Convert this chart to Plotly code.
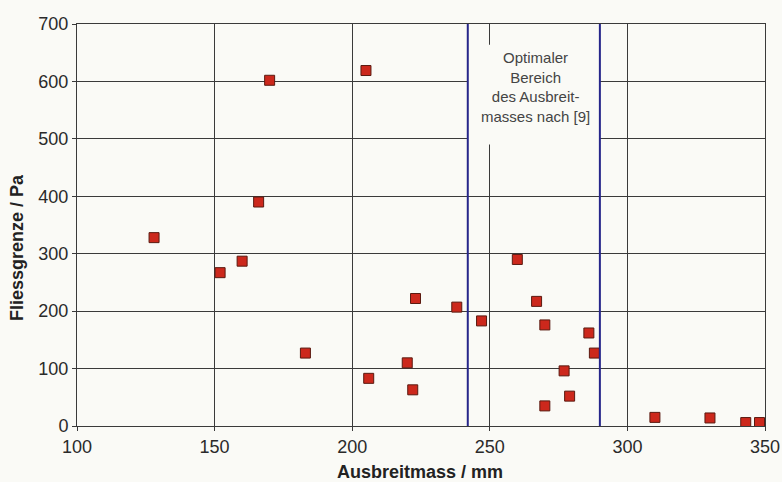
import plotly.graph_objects as go

ausbreitmass = [128, 152, 160, 166, 170, 183, 205, 206, 220, 222, 223, 238, 247, 260,
                267, 270, 270, 277, 279, 286, 288, 310, 330, 343, 348]
fliessgrenze = [328, 267, 287, 390, 602, 127, 619, 83, 110, 63, 222, 207, 183, 290,
                217, 176, 35, 96, 52, 162, 127, 15, 14, 6, 6]
optimal_bounds = [242, 290]
x_ticks = [100, 150, 200, 250, 300, 350]
y_ticks = [0, 100, 200, 300, 400, 500, 600, 700]
note_text = "Optimaler<br>Bereich<br>des Ausbreit-<br>masses nach [9]"
note_span = [490, 664]

W, H = 782, 482
ML, MR, MT, MB = 77, 17, 24, 56

bg = "#fafaf6"
grid = "#3a3a3a"
font_fam = "Liberation Sans, Arial"

fig = go.Figure()
fig.add_trace(go.Scatter(
    x=ausbreitmass, y=fliessgrenze, mode="markers",
    marker=dict(symbol="square", size=10, color="#cc281c",
                line=dict(color="#5a1a10", width=1)),
    showlegend=False, hoverinfo="x+y"))

fig.add_shape(type="rect", xref="x", yref="y",
              x0=optimal_bounds[0], x1=optimal_bounds[1],
              y0=note_span[0], y1=note_span[1],
              fillcolor=bg, line=dict(width=0), layer="between")
for xb in optimal_bounds:
    fig.add_shape(type="line", xref="x", yref="y", x0=xb, x1=xb, y0=0, y1=700,
                  line=dict(color="#26268a", width=2), layer="above")

fig.add_annotation(x=sum(optimal_bounds) / 2 + 0.5, y=(note_span[0] + note_span[1]) / 2 + 14,
                   xref="x", yref="y", text=note_text, showarrow=False,
                   font=dict(family=font_fam, size=15, color="#444444"),
                   align="center")

pw = W - ML - MR
ph = H - MT - MB
fig.add_annotation(text="<b>Ausbreitmass / mm</b>", xref="paper", yref="paper",
                   x=(420 - ML) / pw, y=-(472 - (H - MB)) / ph,
                   showarrow=False, xanchor="center", yanchor="middle",
                   font=dict(family=font_fam, size=18, color="#222222"))
fig.add_annotation(text="<b>Fliessgrenze / Pa</b>", xref="paper", yref="paper",
                   x=-(ML - 17) / pw, y=(H - MB - 248) / ph, textangle=-90,
                   showarrow=False, xanchor="center", yanchor="middle",
                   font=dict(family=font_fam, size=18, color="#222222"))

axis_common = dict(showgrid=True, gridcolor=grid, gridwidth=1, showline=True,
                   linecolor=grid, linewidth=1, mirror=True, ticks="outside",
                   ticklen=4, tickcolor=grid, zeroline=False, automargin=False,
                   tickfont=dict(family=font_fam, size=18, color="#2a2a2a"))

fig.update_xaxes(range=[100, 350], tickvals=x_ticks, **axis_common)
fig.update_yaxes(range=[0, 700], tickvals=y_ticks, **axis_common)

fig.update_layout(width=W, height=H, margin=dict(l=ML, r=MR, t=MT, b=MB),
                  paper_bgcolor=bg, plot_bgcolor=bg)

fig.write_html("out.html", config={"displayModeBar": False},
               post_script="document.body.style.margin='0';document.body.style.padding='0';"
                           "document.body.style.overflow='hidden';"
                           "document.body.style.background='#fafaf6';")
